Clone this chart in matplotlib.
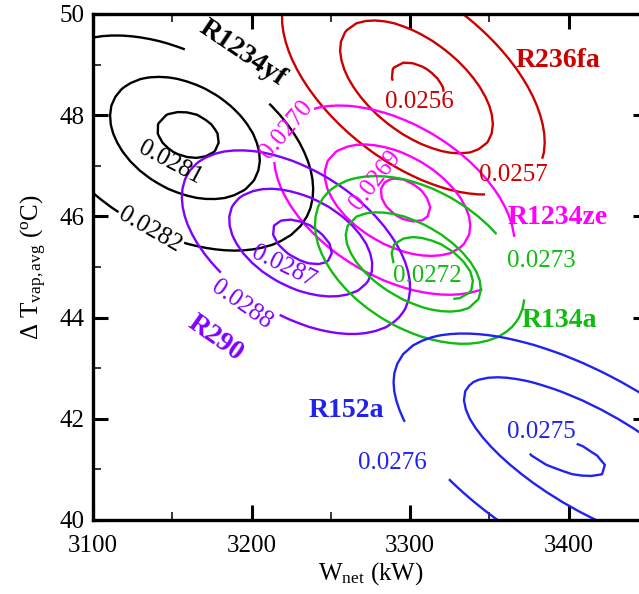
import numpy as np
import matplotlib
matplotlib.use("Agg")
import matplotlib.pyplot as plt
from matplotlib.ticker import MultipleLocator

plt.rcParams["font.family"] = "Liberation Serif"
plt.rcParams["mathtext.fontset"] = "custom"
plt.rcParams["mathtext.rm"] = "Liberation Serif"
plt.rcParams["mathtext.it"] = "Liberation Serif:italic"
plt.rcParams["mathtext.default"] = "regular"

# each refrigerant: three rings, inner -> outer (middle ring is unlabelled)
# center (kW, degC), half axes (kW), tilt (deg)
R1234YF_LEV = [0.0281, 0.02815, 0.0282]
R1234YF_CX = [3160, 3158, 3152]
R1234YF_CY = [47.61, 47.55, 47.45]
R1234YF_A = [20.2, 51.1, 95.0]
R1234YF_B = [13.9, 33.4, 56.0]
R1234YF_TILT = [-20, -30, -30]

R236FA_LEV = [0.0256, 0.02565, 0.0257]
R236FA_CX = [3305, 3304, 3302]
R236FA_CY = [48.60, 48.56, 48.70]
R236FA_A = [19.0, 56.8, 97.0]
R236FA_B = [11.5, 29.5, 52.0]
R236FA_TILT = [-35, -38, -38]

R1234ZE_LEV = [0.0269, 0.02695, 0.0270]
R1234ZE_CX = [3297, 3292, 3290]
R1234ZE_CY = [46.32, 46.32, 46.32]
R1234ZE_A = [17.7, 50.5, 83.7]
R1234ZE_B = [11.4, 28.4, 48.2]
R1234ZE_TILT = [-35, -30, -31]

R290_LEV = [0.0287, 0.02875, 0.0288]
R290_CX = [3232, 3231, 3228]
R290_CY = [45.50, 45.48, 45.49]
R290_A = [20.8, 49.0, 80.8]
R290_B = [11.4, 28.4, 45.0]
R290_TILT = [-30, -28, -33]

R134A_LEV = [0.0272, 0.02725, 0.0273]
R134A_CX = [3314, 3302, 3306]
R134A_CY = [44.98, 45.10, 45.14]
R134A_A = [28.4, 47.3, 72.5]
R134A_B = [15.8, 24.0, 43.8]
R134A_TILT = [-30, -30, -31]

R152A_LEV = [0.0275, 0.02755, 0.0276]
R152A_CX = [3397, 3415, 3410]
R152A_CY = [41.28, 41.15, 41.05]
R152A_A = [28.0, 92.0, 135.0]
R152A_B = [10.0, 31.5, 58.0]
R152A_TILT = [-20, -30, -30]

ASPECT = 31.9  # kW per degC on screen

fig = plt.figure(figsize=(6.39, 5.94), dpi=100)
ax = fig.add_axes([93 / 639, 74 / 594, 555 / 639, 506 / 594])
ax.set_xlim(3100, 3450)
ax.set_ylim(40, 50)

xg = np.linspace(3100, 3450, 60)
yg = np.linspace(40, 50, 56)
XX, YY = np.meshgrid(xg, yg)


def ring(cx, cy, a, b, tilt, lev, color):
    dx = XX - cx
    dy = (YY - cy) * ASPECT
    t = np.radians(tilt)
    u = dx * np.cos(t) + dy * np.sin(t)
    v = -dx * np.sin(t) + dy * np.cos(t)
    f = lev + 1e-6 * ((u / a) ** 2 + (v / b) ** 2 - 1)
    return ax.contour(xg, yg, f, levels=[lev], colors=color, linewidths=1.7)


def rings(cxs, cys, As, Bs, tilts, levs, color):
    return [ring(*p, color) for p in zip(cxs, cys, As, Bs, tilts, levs)]


def label(cs, text, xy, color, rot, gap_at=None, gap=None, bold=False, size=18):
    # break the line near gap_at (or xy), then put the text at xy
    t = cs.clabel(fmt=lambda v: gap or text, manual=[gap_at or xy], inline=True,
                  fontsize=size, colors=color, inline_spacing=2)[-1]
    t.set_text(text)
    t.set_position(xy)
    t.set_rotation(rot)
    if bold:
        t.set_fontweight("bold")
    return t


def plain(text, xy, color, rot):
    ax.text(xy[0], xy[1], text, color=color, fontsize=18, rotation=rot,
            ha="center", va="center", rotation_mode="anchor")


BLACK, RED, MAG, VIO, GRN, BLU = "#000000", "#CC0000", "#FF00FF", "#7F00FF", "#11BB11", "#2222EE"

yf = rings(R1234YF_CX, R1234YF_CY, R1234YF_A, R1234YF_B, R1234YF_TILT, R1234YF_LEV, BLACK)
fa = rings(R236FA_CX, R236FA_CY, R236FA_A, R236FA_B, R236FA_TILT, R236FA_LEV, RED)
ze = rings(R1234ZE_CX, R1234ZE_CY, R1234ZE_A, R1234ZE_B, R1234ZE_TILT, R1234ZE_LEV, MAG)
pr = rings(R290_CX, R290_CY, R290_A, R290_B, R290_TILT, R290_LEV, VIO)
ta = rings(R134A_CX, R134A_CY, R134A_A, R134A_B, R134A_TILT, R134A_LEV, GRN)
fb = rings(R152A_CX, R152A_CY, R152A_A, R152A_B, R152A_TILT, R152A_LEV, BLU)

fmt = "%.4f"
plain(fmt % R1234YF_LEV[0], (3148.5, 47.06), BLACK, -28)
label(yf[2], fmt % R1234YF_LEV[2], (3136, 45.73), BLACK, -30)
label(yf[2], "R1234yf", (3194, 49.22), BLACK, -34, bold=True, size=20)

label(fa[0], fmt % R236FA_LEV[0], (3306, 48.26), RED, 0)
label(fa[2], fmt % R236FA_LEV[2], (3365, 46.82), RED, 0)

label(ze[2], fmt % R1234ZE_LEV[2], (3222, 47.71), MAG, 50)
plain(fmt % R1234ZE_LEV[0], (3278, 46.72), MAG, 52)
label(ze[2], "R1234ze", (3393, 45.97), MAG, 0, gap_at=(3357, 45.04), gap="0.027",
      bold=True, size=20)

plain(fmt % R290_LEV[0], (3220, 45.0), VIO, -26)
label(pr[2], fmt % R290_LEV[2], (3194, 44.25), VIO, -35)

label(ta[0], fmt % R134A_LEV[0], (3311, 44.82), GRN, 0)
label(ta[2], fmt % R134A_LEV[2], (3382.6, 45.11), GRN, 0, gap_at=(3366, 45.04))

label(fb[0], fmt % R152A_LEV[0], (3383, 41.74), BLU, 0)
label(fb[2], fmt % R152A_LEV[2], (3289, 41.13), BLU, 0, gap_at=(3303, 41.19))

name_kw = dict(fontsize=20, fontweight="bold", ha="center", va="center")
ax.text(3393, 49.09, "R236fa", color=RED, **name_kw)
ax.text(3394, 43.95, "R134a", color=GRN, **name_kw)
ax.text(3260, 42.17, "R152a", color=BLU, **name_kw)
ax.text(3177, 43.6, "R290", color=VIO, rotation=-35, **name_kw)

ax.xaxis.set_major_locator(MultipleLocator(100))
ax.xaxis.set_minor_locator(MultipleLocator(50))
ax.yaxis.set_major_locator(MultipleLocator(2))
ax.yaxis.set_minor_locator(MultipleLocator(1))
ax.tick_params(which="both", direction="in", top=True, right=True, labelsize=18)
ax.tick_params(which="major", length=11, width=2.2)
ax.tick_params(which="minor", length=5.5, width=1.1)
ax.tick_params(axis="x", pad=11)
ax.tick_params(axis="y", pad=6)
for s in ax.spines.values():
    s.set_linewidth(2.4)

ax.set_xlabel(r"W$_{net}$ (kW)", fontsize=18, labelpad=2)
ax.set_ylabel(r"$\Delta$ T$_{vap,avg}$ ($^{o}$C)", fontsize=18, labelpad=8)

fig.savefig("out.png", dpi=100)
